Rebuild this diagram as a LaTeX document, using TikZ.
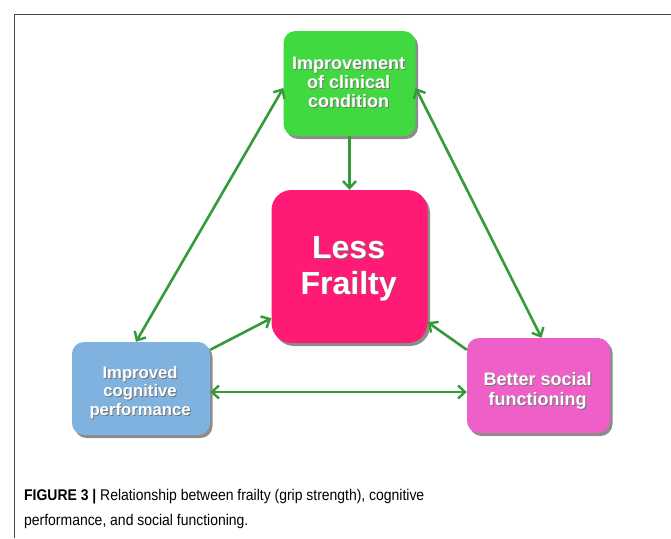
\documentclass[tikz,border=0pt]{standalone}
\usepackage{fontspec}
\setmainfont{Liberation Sans}
\newfontfamily\capfont[FakeStretch=0.9]{Liberation Sans}
\usetikzlibrary{arrows.meta,shadows,calc}
\definecolor{boxgreen}{RGB}{64,218,64}
\definecolor{boxpink}{RGB}{255,26,117}
\definecolor{boxblue}{RGB}{127,178,222}
\definecolor{boxmag}{RGB}{238,96,200}
\definecolor{arrowgreen}{RGB}{52,154,58}
\definecolor{framegray}{RGB}{70,70,70}
\tikzset{
  box/.style={rounded corners=12pt, inner sep=0pt,
    drop shadow={shadow xshift=2.5pt, shadow yshift=-3pt, fill=black, opacity=0.45}},
  boxlabel/.style={inner sep=0pt, align=center, text=white},
  boxshade/.style={inner sep=0pt, align=center, text=black!55},
  tip/.tip={Straight Barb[length=7pt,width=13pt,line width=2.4pt]},
  conn/.style={draw=arrowgreen, line width=2.6pt, -tip},
  both/.style={draw=arrowgreen, line width=2.6pt, tip-tip},
  frame/.style={draw=framegray, line width=1.2pt},
  caption/.style={anchor=base west, inner sep=0pt, font=\capfont\fontsize{15.5}{17}\selectfont}
}
% name, position, box style, font, text y offset, text
\newcommand\labelbox[6]{%
  \node[box,#3] (#1) at #2 {};
  \node[boxshade,font={#4}] (#1-s) at ([yshift=#5]#1.center) {#6};
  \node[boxlabel,font={#4}] (#1-t) at ([shift={(-0.9pt,0.9pt)}]#1-s.center) {#6};
}
\begin{document}
\begin{tikzpicture}[x=1pt,y=-1pt]
\useasboundingbox (0,0) rectangle (671,538);
\fill[white] (0,0) rectangle (671,538);
\draw[frame] (14.5,538) -- (14.5,14.5) -- (671,14.5);

\labelbox{green}{(349.5,83.5)}{fill=boxgreen, minimum width=132pt, minimum height=105pt}{\bfseries\fontsize{18}{19}\selectfont}{0pt}{Improvement\\of clinical\\condition}
\labelbox{pink}{(349.5,266.5)}{fill=boxpink, rounded corners=20pt, minimum width=156pt, minimum height=153pt}{\bfseries\fontsize{32}{35.5}\selectfont}{-3pt}{Less\\Frailty}
\labelbox{blue}{(141,388.5)}{fill=boxblue, minimum width=138pt, minimum height=93pt}{\bfseries\fontsize{16.7}{18.5}\selectfont}{-5pt}{Improved\\cognitive\\performance}
\labelbox{mag}{(538.5,385.5)}{fill=boxmag, minimum width=143pt, minimum height=95pt}{\bfseries\fontsize{18}{20}\selectfont}{-6pt}{Better social\\functioning}

% connectors
\draw[conn] (green.south) -- (pink.north);
\draw[both] ([yshift=-4.5pt]green.west) -- ([xshift=-5pt]blue.north);
\draw[both] ([yshift=-4.5pt]green.east) -- ([xshift=3pt]mag.north);
\draw[conn] ([yshift=-8pt]blue.north east) -- ([yshift=25pt]pink.south west);
\draw[conn] ([yshift=-12pt]mag.north west) -- ([yshift=21pt]pink.south east);
\coordinate (bm) at ([yshift=-3.5pt]blue.east);
\draw[both] (bm) -- (bm -| mag.west);

% caption
\node[caption] (cap1) at (24,500) {\textbf{FIGURE 3 |} Relationship between frailty (grip strength), cognitive};
\node[caption] (cap2) at (24,525) {performance, and social functioning.};
\end{tikzpicture}
\end{document}
